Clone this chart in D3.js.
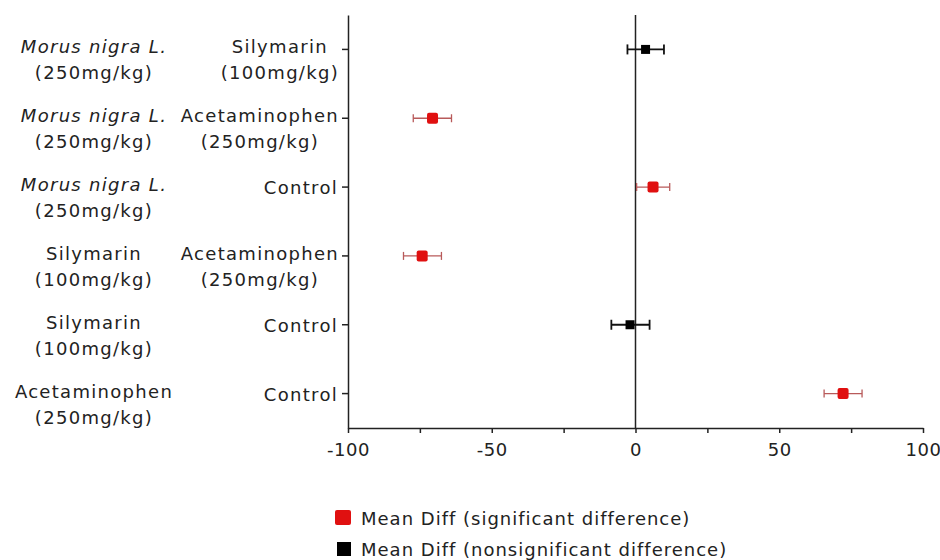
<!DOCTYPE html>
<meta charset="utf-8">
<style>
body { margin: 0; background: #fff; }
svg { display: block; }
text {
  font-family: "DejaVu Sans", Verdana, sans-serif;
  font-size: 18px;
  fill: #222;
  letter-spacing: 1.3px;
}
.axis path, .axis line { stroke: #222; stroke-width: 1.5px; fill: none; }
.legend text { letter-spacing: 1px; }
</style>
<body>
<script src="https://d3js.org/d3.v7.min.js"></script>
<script>

// group compared (left column) and the group it was compared with (right column)
var groupA = [
  ["Morus nigra L.", "(250mg/kg)"],
  ["Morus nigra L.", "(250mg/kg)"],
  ["Morus nigra L.", "(250mg/kg)"],
  ["Silymarin", "(100mg/kg)"],
  ["Silymarin", "(100mg/kg)"],
  ["Acetaminophen", "(250mg/kg)"]
];
var groupB = [
  ["Silymarin", "(100mg/kg)"],
  ["Acetaminophen", "(250mg/kg)"],
  ["Control"],
  ["Acetaminophen", "(250mg/kg)"],
  ["Control"],
  ["Control"]
];
var meanDiff = [3.5, -70.6, 6.1, -74.2, -1.9, 72.2];
var ciLow    = [-2.8, -77.3, 0.4, -80.7, -8.4, 65.6];
var ciHigh   = [9.9, -64.0, 11.9, -67.5, 4.9, 78.8];
var significant = [false, true, true, true, false, true];

var xTicks = [-100, -75, -50, -25, 0, 25, 50, 75, 100];
var legendLabels = ["Mean Diff (significant difference)", "Mean Diff (nonsignificant difference)"];

var width = 940, height = 560;
var plot = {left: 348, right: 923, top: 15, bottom: 428};

var svg = d3.select("body").append("svg")
  .attr("width", width)
  .attr("height", height);

var x = d3.scaleLinear()
  .domain([-100, 100])
  .range([plot.left, plot.right]);

var y = d3.scaleBand()
  .domain(d3.range(meanDiff.length))
  .range([plot.top, plot.bottom]);

function yc(i) { return y(i) + y.bandwidth() / 2; }

// axes
svg.append("g")
  .attr("class", "x axis")
  .attr("transform", "translate(0," + plot.bottom + ")")
  .call(d3.axisBottom(x)
    .tickValues(xTicks)
    .tickSize(5)
    .tickSizeOuter(0)
    .tickFormat(function(d) { return d % 50 === 0 ? d : ""; }))
  .selectAll("text")
    .attr("dy", "1.1em")
    .style("font-size", "18px")
    .style("letter-spacing", "0.5px")
    .style("font-family", "'DejaVu Sans', Verdana, sans-serif")
    .attr("fill", "#222");

svg.append("g")
  .attr("class", "y axis")
  .attr("transform", "translate(" + plot.left + ",0)")
  .call(d3.axisLeft(y).tickSize(6).tickSizeOuter(0).tickFormat(""));

// zero line
svg.append("line")
  .attr("x1", x(0)).attr("x2", x(0))
  .attr("y1", plot.top).attr("y2", plot.bottom)
  .attr("stroke", "#222")
  .attr("stroke-width", 1.5);

// row labels
var labelG = svg.append("g");

groupA.forEach(function(lines, i) {
  lines.forEach(function(t, k) {
    labelG.append("text")
      .attr("x", 94)
      .attr("y", yc(i) + 4 + k * 26)
      .attr("text-anchor", "middle")
      .style("font-style", t.indexOf("Morus") === 0 ? "italic" : "normal")
      .text(t);
  });
});

groupB.forEach(function(lines, i) {
  if (lines.length === 1) {
    labelG.append("text")
      .attr("x", plot.left - 10)
      .attr("y", yc(i) + 7)
      .attr("text-anchor", "end")
      .text(lines[0]);
    return;
  }
  var texts = lines.map(function(t, k) {
    return labelG.append("text")
      .attr("y", yc(i) + 4 + k * 26)
      .attr("text-anchor", "middle")
      .text(t);
  });
  var w = d3.max(texts, function(t) { return t.node().getComputedTextLength(); });
  texts.forEach(function(t) { t.attr("x", plot.left - 9 - w / 2); });
});

// error bars and markers
var rows = svg.selectAll(".row")
  .data(meanDiff)
  .enter().append("g")
  .attr("class", "row");

rows.each(function(d, i) {
  var g = d3.select(this);
  var sig = significant[i];
  var lineCol = sig ? "#b85a5a" : "#111";
  var sw = sig ? 1.3 : 1.8;
  var cap = sig ? 4 : 5;
  var cy = yc(i);
  g.append("line")
    .attr("x1", x(ciLow[i])).attr("x2", x(ciHigh[i]))
    .attr("y1", cy).attr("y2", cy)
    .attr("stroke", lineCol).attr("stroke-width", sw);
  [ciLow[i], ciHigh[i]].forEach(function(v) {
    g.append("line")
      .attr("x1", x(v)).attr("x2", x(v))
      .attr("y1", cy - cap).attr("y2", cy + cap)
      .attr("stroke", lineCol).attr("stroke-width", sw);
  });
  var s = sig ? 11 : 9;
  g.append("rect")
    .attr("x", x(d) - s / 2)
    .attr("y", cy - s / 2)
    .attr("width", s)
    .attr("height", s)
    .attr("rx", sig ? 2 : 0)
    .attr("fill", sig ? "#e01010" : "#000");
});

// legend
var legend = svg.append("g").attr("class", "legend");
legendLabels.forEach(function(t, i) {
  var ly = 525 + i * 31;
  legend.append("rect")
    .attr("x", i === 0 ? 335 : 337)
    .attr("y", ly - (i === 0 ? 15 : 14))
    .attr("width", i === 0 ? 16 : 14)
    .attr("height", i === 0 ? 15 : 14)
    .attr("rx", i === 0 ? 2 : 0)
    .attr("fill", i === 0 ? "#e01010" : "#000");
  legend.append("text")
    .attr("x", 361)
    .attr("y", ly)
    .text(t);
});

</script>
